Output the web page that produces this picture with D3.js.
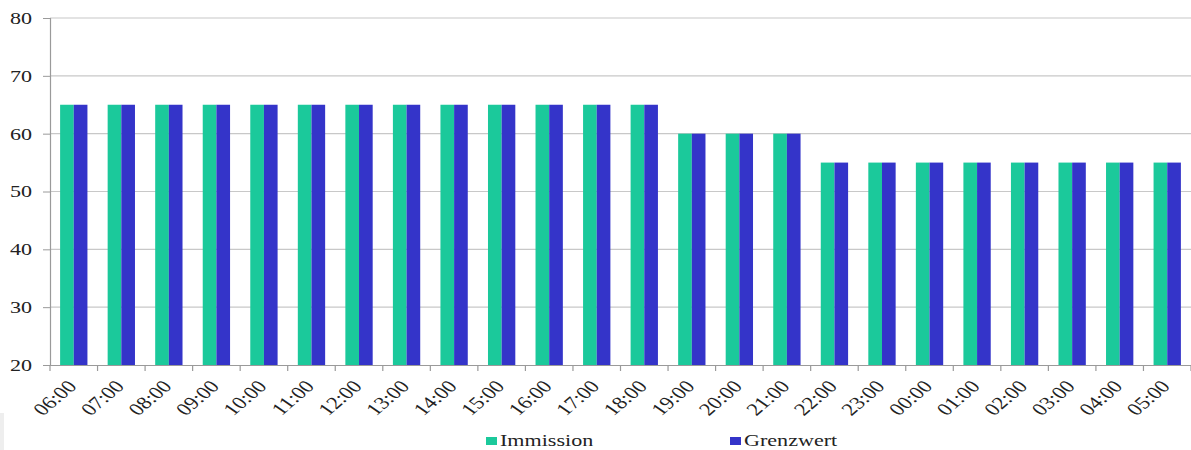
<!DOCTYPE html>
<html><head><meta charset="utf-8">
<script src="https://cdn.jsdelivr.net/npm/d3@7"></script>
<style>body{margin:0;background:#fff}svg{display:block}</style>
</head><body>
<script>
const categories = ["06:00","07:00","08:00","09:00","10:00","11:00","12:00","13:00","14:00","15:00","16:00","17:00","18:00","19:00","20:00","21:00","22:00","23:00","00:00","01:00","02:00","03:00","04:00","05:00"];
const immission = [65,65,65,65,65,65,65,65,65,65,65,65,65,60,60,60,55,55,55,55,55,55,55,55];
const grenzwert = [65,65,65,65,65,65,65,65,65,65,65,65,65,60,60,60,55,55,55,55,55,55,55,55];
const seriesNames = ["Immission","Grenzwert"];
const yTicks = [20,30,40,50,60,70,80];
const colors = ["#1bc99b","#3434c9"];

const W = 1191, H = 450;
const m = {l:50, r:0, t:18, b:85};
const SX = 1.3; // horizontal text stretch seen in the reference
const svg = d3.select("body").append("svg").attr("width",W).attr("height",H);
svg.append("rect").attr("x",0).attr("y",413).attr("width",4).attr("height",37).attr("fill","#eee");

const x = d3.scaleBand().domain(categories).range([m.l, W - m.r]);
const y = d3.scaleLinear().domain([20,80]).range([H - m.b, m.t]);
const inner = d3.scaleBand().domain(seriesNames).range([0, x.bandwidth()]).paddingInner(0).paddingOuter(0.74);

const font = "'Liberation Serif','Times New Roman',serif";

// gridlines
svg.append("g").selectAll("line").data(yTicks.filter(d=>d>20)).join("line")
  .attr("x1", m.l).attr("x2", W - m.r).attr("y1", d=>y(d)).attr("y2", d=>y(d))
  .attr("stroke","#c8c8c8").attr("stroke-width",1.2);

// bars
const data = categories.map((c,i)=>({c, vals:[immission[i], grenzwert[i]]}));
const g = svg.append("g").selectAll("g").data(data).join("g")
  .attr("transform", d=>`translate(${x(d.c)},0)`);
g.selectAll("rect").data(d=>d.vals.map((v,j)=>({k:seriesNames[j], v, j}))).join("rect")
  .attr("x", d=>inner(d.k)).attr("width", inner.bandwidth())
  .attr("y", d=>y(d.v)).attr("height", d=>y(20)-y(d.v))
  .attr("fill", d=>colors[d.j]);

// y axis
const ya = svg.append("g").attr("transform",`translate(${m.l},0)`)
  .call(d3.axisLeft(y).tickValues(yTicks).tickSize(7).tickPadding(11).tickFormat(d3.format("d")));
ya.select(".domain").attr("stroke","#9a9a9a").attr("stroke-width",1.2);
ya.selectAll(".tick line").attr("stroke","#9a9a9a");
ya.selectAll("text").attr("font-family",font).attr("font-size",17).attr("fill","#222")
  .attr("x",0).attr("transform",`translate(-18,0) scale(${SX},1)`);

// x axis
const xa = svg.append("g").attr("transform",`translate(0,${y(20)})`)
  .call(d3.axisBottom(x).tickSize(0).tickFormat(""));
xa.select(".domain").attr("stroke","#9a9a9a").attr("stroke-width",1.2);
xa.selectAll(".tick").remove();
svg.append("g").selectAll("line").data(d3.range(categories.length+1)).join("line")
  .attr("x1", i=>m.l + i*x.step()).attr("x2", i=>m.l + i*x.step())
  .attr("y1", y(20)).attr("y2", y(20)+6).attr("stroke","#9a9a9a").attr("stroke-width",1.2);

svg.append("g").selectAll("text").data(categories).join("text")
  .attr("transform", d=>`translate(${x(d)+x.bandwidth()/2+4},${y(20)+22}) scale(${SX},1) rotate(-48)`)
  .attr("text-anchor","end")
  .attr("font-family",font).attr("font-size",17.5).attr("fill","#222")
  .text(d=>d);

// legend
const legX = [486, 730];
const lg = svg.append("g").selectAll("g").data(seriesNames).join("g")
  .attr("transform",(d,i)=>`translate(${legX[i]},0)`);
lg.append("rect").attr("x",0).attr("y",437).attr("width",11).attr("height",8).attr("fill",(d,i)=>colors[i]);
lg.append("text").attr("transform",`translate(14,446) scale(${SX},1)`)
  .attr("font-family",font).attr("font-size",17).attr("fill","#222").text(d=>d);
</script>
</body></html>
